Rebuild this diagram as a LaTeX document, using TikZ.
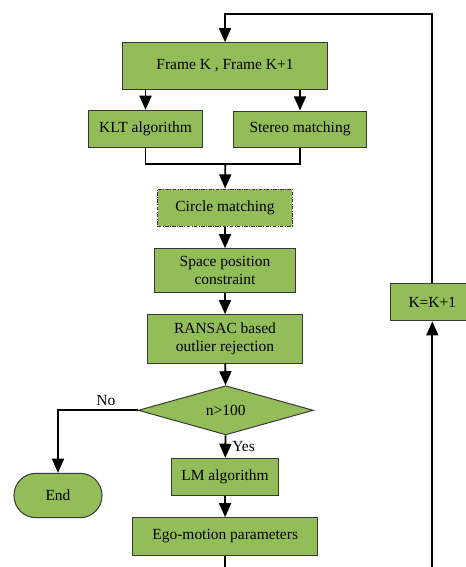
\documentclass[tikz,border=0pt]{standalone}
\usepackage{fontspec}
\setmainfont{Liberation Serif}
\usetikzlibrary{arrows.meta,positioning,shapes.geometric}
\definecolor{boxgreen}{RGB}{146,189,88}
\definecolor{boxline}{RGB}{55,55,55}

\begin{document}
\begin{tikzpicture}[x=0.025cm, y=-0.025cm,
    every node/.style={font=\fontsize{11}{13}\selectfont},
    >={Triangle[length=10pt,width=8.5pt]},
    stepbox/.style={draw=boxline, line width=0.7pt, fill=boxgreen,
      inner sep=0pt, align=center},
    link/.style={line width=1.3pt}]
    \clip (0,0) rectangle (466,567);
    % Boxes
    \node[stepbox, minimum width=5.125cm, minimum height=1.165cm] (frames) at (225,66) {Frame K , Frame K+1};
    \node[stepbox, minimum width=2.85cm, minimum height=0.935cm] (klt) at (145.5,129) {KLT algorithm};
    \node[stepbox, minimum width=3.3cm, minimum height=0.9cm] (stereo) at (300,129) {Stereo matching};
    \node[stepbox, dash pattern=on 2.5pt off 1pt on 0.6pt off 1pt,
      minimum width=3.35cm, minimum height=0.925cm] (circ) at (225,207.5) {Circle matching};
    \node[stepbox, minimum width=3.54cm, minimum height=1.09cm] (space) at (225,270.5) {Space position\\constraint};
    \node[stepbox, minimum width=3.85cm, minimum height=1.21cm] (ransac) at (225,338.8) {RANSAC based\\outlier rejection};
    \node[stepbox, diamond, aspect=3.55, minimum width=4.375cm, minimum height=1.23cm] (test) at (225.8,410.3) {n>100};
    \node[stepbox, minimum width=2.65cm, minimum height=0.935cm] (lm) at (225,477) {LM algorithm};
    \node[stepbox, minimum width=4.625cm, minimum height=0.94cm] (ego) at (225.2,536.5) {Ego-motion parameters};
    \node[stepbox, rounded corners=0.55cm, minimum width=2.2cm, minimum height=1.11cm] (stop) at (58,495.5) {End};
    \node[stepbox, minimum width=2.1cm, minimum height=0.93cm] (incr) at (432.3,302.3) {K=K+1};
    % Loop corners
    \coordinate (top) at (432.3,14.3);
    \coordinate (merge) at (225.3,164.3);
    \coordinate (egoout) at (225.2,570);
    \coordinate (loopin) at (432.3,570);
    % Connectors
    \draw[->,link] (frames.south -| klt) -- (klt);
    \draw[->,link] (frames.south -| stereo) -- (stereo);
    \draw[link] (klt) |- (merge) -| (stereo);
    \draw[->,link] (merge) -- (circ);
    \draw[->,link] (circ) -- (space);
    \draw[->,link] (space) -- (ransac);
    \draw[->,link] (ransac) -- (test);
    \draw[->,link] (test) -- node[right=1pt]{Yes} (lm);
    \draw[->,link] (test.west) -| node[pos=0.2, above=-1pt]{No} (stop.north);
    \draw[->,link] (lm) -- (ego);
    \draw[link] (ego) -- (egoout);
    \draw[->,link] (loopin) -- (incr);
    \draw[->,link] (incr) |- (top) -| (frames);
\end{tikzpicture}
\end{document}
